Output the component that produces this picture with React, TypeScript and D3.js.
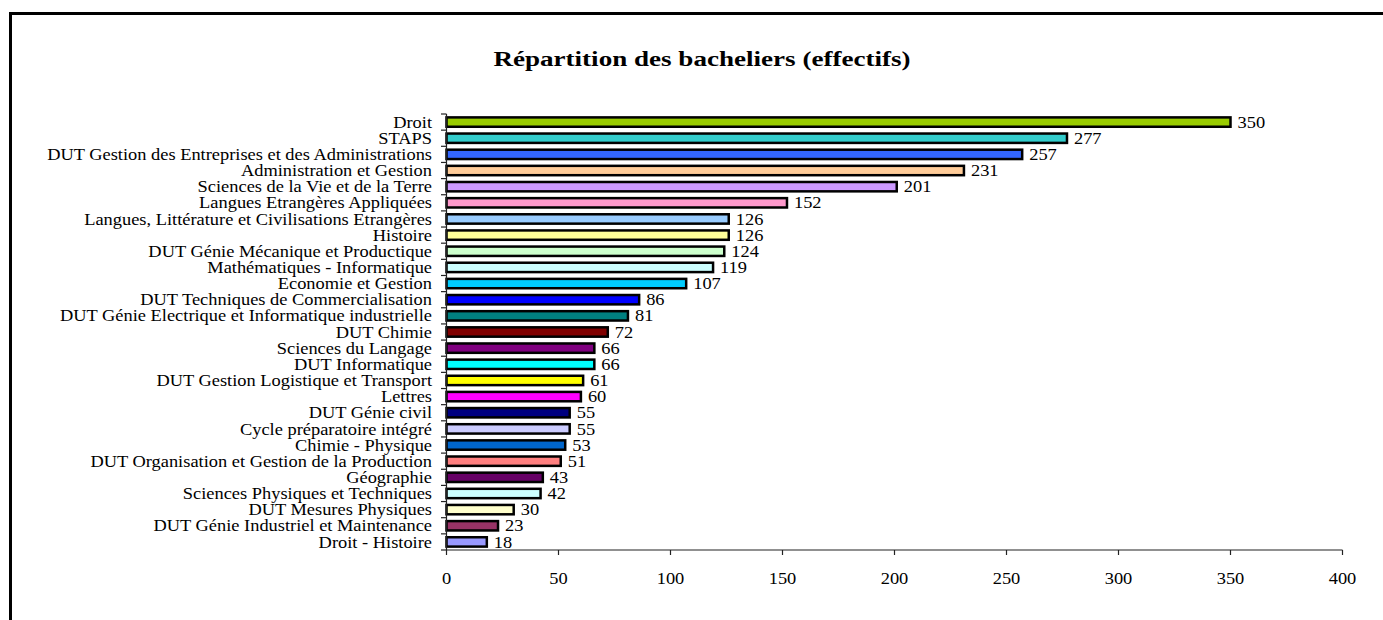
import React from "react";
import * as d3 from "d3";

const categories = [
  "Droit",
  "STAPS",
  "DUT Gestion des Entreprises et des Administrations",
  "Administration et Gestion",
  "Sciences de la Vie et de la Terre",
  "Langues Etrangères Appliquées",
  "Langues, Littérature et Civilisations Etrangères",
  "Histoire",
  "DUT Génie Mécanique et Productique",
  "Mathématiques - Informatique",
  "Economie et Gestion",
  "DUT Techniques de Commercialisation",
  "DUT Génie Electrique et Informatique industrielle",
  "DUT Chimie",
  "Sciences du Langage",
  "DUT Informatique",
  "DUT Gestion Logistique et Transport",
  "Lettres",
  "DUT Génie civil",
  "Cycle préparatoire intégré",
  "Chimie - Physique",
  "DUT Organisation et Gestion de la Production",
  "Géographie",
  "Sciences Physiques et Techniques",
  "DUT Mesures Physiques",
  "DUT Génie Industriel et Maintenance",
  "Droit - Histoire",
];

const values = [350, 277, 257, 231, 201, 152, 126, 126, 124, 119, 107, 86, 81, 72, 66, 66, 61, 60, 55, 55, 53, 51, 43, 42, 30, 23, 18];

const colors = [
  "#99CC00", "#33CCCC", "#3366FF", "#FFCC99", "#CC99FF", "#FF99CC", "#99CCFF",
  "#FFFF99", "#CCFFCC", "#CCFFFF", "#00CCFF", "#0000FF", "#008080", "#800000",
  "#800080", "#00FFFF", "#FFFF00", "#FF00FF", "#000080", "#CCCCFF", "#0066CC",
  "#FF8080", "#660066", "#CCFFFF", "#FFFFCC", "#993366", "#9999FF",
];

const xTicks = [0, 50, 100, 150, 200, 250, 300, 350, 400];
const title = "Répartition des bacheliers (effectifs)";

export default function App() {
  const W = 1383;
  const H = 620;
  const x = d3.scaleLinear().domain([0, 400]).range([446.5, 1342.5]);
  const y = d3
    .scaleBand<string>()
    .domain(categories)
    .range([114, 550])
    .paddingInner(0.42)
    .paddingOuter(0.21);
  const step = y.step();
  const font = "'Liberation Serif', 'Times New Roman', serif";
  const boundaries = d3.range(categories.length + 1).map((i) => 114 + i * step);
  const sx = 1.15;

  return (
    <svg
      width={W}
      height={H}
      style={{ position: "absolute", left: 0, top: 0, background: "#fff" }}
      fontFamily={font}
    >
      <rect x={0} y={0} width={W} height={H} fill="#fff" />
      <rect x={10.5} y={13.5} width={W + 20} height={H + 20} fill="none" stroke="#000" strokeWidth={3} />
      <text x={0} y={0} textAnchor="middle" fontWeight="bold" fontSize={21.5} transform="translate(702,66) scale(1.26,1)">
        {title}
      </text>
      {categories.map((c, i) => (
        <rect
          key={c}
          x={x(0)}
          y={y(c)!}
          width={x(values[i]) - x(0)}
          height={y.bandwidth()}
          fill={colors[i]}
          stroke="#000"
          strokeWidth={2.5}
        />
      ))}
      <line x1={x(0)} x2={x(0)} y1={114} y2={550} stroke="#222" strokeWidth={1.2} />
      <line x1={x(0)} x2={x(400)} y1={550} y2={550} stroke="#222" strokeWidth={1.2} />
      {boundaries.map((b, i) => (
        <line key={i} x1={441} x2={x(0)} y1={b} y2={b} stroke="#222" strokeWidth={1.2} />
      ))}
      {xTicks.map((t) => (
        <g key={t}>
          <line x1={x(t)} x2={x(t)} y1={550} y2={555} stroke="#222" strokeWidth={1.2} />
          <text x={0} y={0} textAnchor="middle" fontSize={16} transform={`translate(${x(t)},584) scale(${sx},1)`}>
            {t}
          </text>
        </g>
      ))}
      {categories.map((c, i) => (
        <text
          key={c}
          x={0}
          y={0}
          dy="0.35em"
          textAnchor="end"
          fontSize={16}
          transform={`translate(432,${y(c)! + y.bandwidth() / 2}) scale(${sx},1)`}
        >
          {c}
        </text>
      ))}
      {categories.map((c, i) => (
        <text
          key={c}
          x={0}
          y={0}
          dy="0.35em"
          fontSize={16}
          transform={`translate(${x(values[i]) + 7},${y(c)! + y.bandwidth() / 2}) scale(${sx},1)`}
        >
          {values[i]}
        </text>
      ))}
    </svg>
  );
}
